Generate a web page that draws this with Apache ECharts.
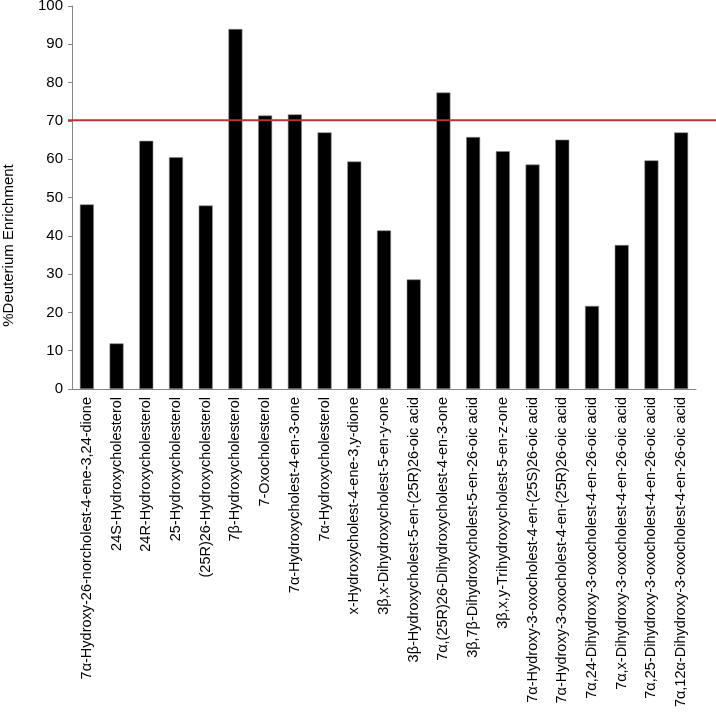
<!DOCTYPE html>
<html>
<head>
<meta charset="utf-8">
<script src="https://cdn.jsdelivr.net/npm/echarts@6/dist/echarts.min.js"></script>
<style>
  html, body { margin: 0; padding: 0; background: #fff; }
  #chart { width: 716px; height: 712px; }
</style>
</head>
<body>
<div id="chart"></div>
<script>
// 化合物名称
const categories = [
  "7α-Hydroxy-26-norcholest-4-ene-3,24-dione",
  "24S-Hydroxycholesterol",
  "24R-Hydroxycholesterol",
  "25-Hydroxycholesterol",
  "(25R)26-Hydroxycholesterol",
  "7β-Hydroxycholesterol",
  "7-Oxocholesterol",
  "7α-Hydroxycholest-4-en-3-one",
  "7α-Hydroxycholesterol",
  "x-Hydroxycholest-4-ene-3,y-dione",
  "3β,x-Dihydroxycholest-5-en-y-one",
  "3β-Hydroxycholest-5-en-(25R)26-oic acid",
  "7α,(25R)26-Dihydroxycholest-4-en-3-one",
  "3β,7β-Dihydroxycholest-5-en-26-oic acid",
  "3β,x,y-Trihydroxycholest-5-en-z-one",
  "7α-Hydroxy-3-oxocholest-4-en-(25S)26-oic acid",
  "7α-Hydroxy-3-oxocholest-4-en-(25R)26-oic acid",
  "7α,24-Dihydroxy-3-oxocholest-4-en-26-oic acid",
  "7α,x-Dihydroxy-3-oxocholest-4-en-26-oic acid",
  "7α,25-Dihydroxy-3-oxocholest-4-en-26-oic acid",
  "7α,12α-Dihydroxy-3-oxocholest-4-en-26-oic acid"
]
// %Deuterium Enrichment
const enrichment = [48.2, 11.9, 64.8, 60.5, 47.9, 94.0, 71.4, 71.7, 67.0, 59.4, 41.4,
  28.6, 77.4, 65.8, 62.1, 58.6, 65.1, 21.7, 37.6, 59.7, 67.0]
// 阈值线
const threshold = 70.2
const yTicks = [0, 10, 20, 30, 40, 50, 60, 70, 80, 90, 100]

const font = "Liberation Sans, Arial, sans-serif"

const option = {
  animation: false,
  backgroundColor: "#fff",
  grid: [
    { left: 72, right: 20, top: 6, bottom: 323, containLabel: false, outerBoundsMode: "none" },
    { left: 68, right: 0, top: 6, bottom: 323, containLabel: false, outerBoundsMode: "none" }
  ],
  xAxis: [
    {
      type: "category",
      data: categories,
      gridIndex: 0,
      axisLine: { lineStyle: { color: "#868686", width: 1 } },
      axisTick: { alignWithLabel: true, length: 4, lineStyle: { color: "#868686" } },
      axisLabel: {
        rotate: 90,
        interval: 0,
        margin: 8,
        color: "#000",
        fontSize: 14.5,
        fontFamily: font
      }
    },
    { type: "value", gridIndex: 1, min: 0, max: 1, show: false }
  ],
  yAxis: [
    {
      type: "value",
      gridIndex: 0,
      min: yTicks[0],
      max: yTicks[yTicks.length - 1],
      interval: 10,
      name: "%Deuterium Enrichment",
      nameLocation: "middle",
      nameGap: 56,
      nameTextStyle: { color: "#000", fontSize: 15, fontFamily: font, padding: [0, 96, 0, 0] },
      axisLine: { show: true, lineStyle: { color: "#868686", width: 1 } },
      axisTick: { show: true, inside: false, length: 4, lineStyle: { color: "#868686" } },
      axisLabel: { color: "#000", fontSize: 15, fontFamily: font, margin: 9 },
      splitLine: { show: false }
    },
    { type: "value", gridIndex: 1, min: 0, max: 100, show: false }
  ],
  series: [
    {
      type: "bar",
      xAxisIndex: 0,
      yAxisIndex: 0,
      data: enrichment,
      barWidth: 14,
      itemStyle: { color: "#000", borderColor: "#8a8a8a", borderWidth: 0.6 }
    },
    {
      type: "line",
      xAxisIndex: 1,
      yAxisIndex: 1,
      data: [[0, threshold], [1, threshold]],
      symbol: "none",
      z: 5,
      lineStyle: { color: "#bb3333", width: 2 }
    }
  ]
}

const myChart = echarts.init(document.getElementById("chart"))
myChart.setOption(option)
</script>
</body>
</html>
